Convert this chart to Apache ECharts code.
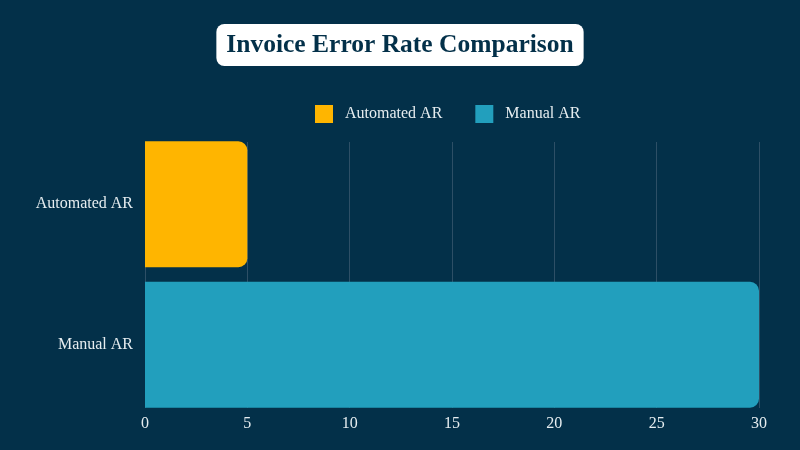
<!DOCTYPE html>
<html><head><meta charset="utf-8">
<script src="https://cdn.jsdelivr.net/npm/echarts@6/dist/echarts.min.js"></script>
<style>html,body{margin:0;padding:0;background:#033049}#c{width:800px;height:450px}</style>
</head><body><div id="c"></div>
<script>
const categories = ['Automated AR', 'Manual AR'];
const seriesNames = ['Automated AR', 'Manual AR'];
const automatedValues = [5, null];
const manualValues = [null, 30];
const xTicks = {min: 0, max: 30, interval: 5};

const chart = echarts.init(document.getElementById('c'));
const serif = '"Liberation Serif", serif';
const txt = '#e6edf0';
chart.setOption({
  backgroundColor: '#033049',
  title: {
    text: 'Invoice Error Rate Comparison',
    left: 'center', top: 24,
    backgroundColor: '#ffffff', borderRadius: 8,
    padding: [8, 10, 8, 10],
    textStyle: {fontFamily: serif, fontWeight: 'bold', fontSize: 25.5, color: '#033049', lineHeight: 26}
  },
  legend: {
    data: seriesNames, top: 100, left: 310,
    itemWidth: 18, itemHeight: 18, itemGap: 33,
    icon: 'rect',
    textStyle: {fontFamily: serif, fontSize: 16, color: txt, padding: [0, 0, 0, 7]}
  },
  grid: [
    {left: 145, right: 41, top: 134, bottom: 35},
    {left: 145, right: 41, top: 142, bottom: 42}
  ],
  xAxis: [
    {gridIndex: 0, type: 'value', min: xTicks.min, max: xTicks.max, interval: xTicks.interval,
     show: false, splitLine: {show: false}},
    {gridIndex: 1, type: 'value', min: xTicks.min, max: xTicks.max, interval: xTicks.interval,
     axisLine: {show: false}, axisTick: {show: false},
     splitLine: {show: true, lineStyle: {color: '#2d4f66', width: 1}},
     axisLabel: {fontFamily: serif, fontSize: 16, color: txt, margin: 8}}
  ],
  yAxis: [
    {gridIndex: 0, type: 'category', data: categories, inverse: true,
     axisLine: {show: false}, axisTick: {show: false},
     axisLabel: {fontFamily: serif, fontSize: 16, color: txt, margin: 12}},
    {gridIndex: 1, type: 'category', data: categories, show: false}
  ],
  series: [
    {name: seriesNames[0], type: 'bar', stack: 's', data: automatedValues, barWidth: 126,
     xAxisIndex: 0, yAxisIndex: 0, z: 3,
     itemStyle: {color: '#ffb500', borderRadius: [0, 9, 9, 0]}},
    {name: seriesNames[1], type: 'bar', stack: 's', data: manualValues, barWidth: 126,
     xAxisIndex: 0, yAxisIndex: 0, z: 3,
     itemStyle: {color: '#229fbd', borderRadius: [0, 9, 9, 0]}},
    {name: 'grid', type: 'scatter', data: [], xAxisIndex: 1, yAxisIndex: 1}
  ]
});
</script></body></html>
